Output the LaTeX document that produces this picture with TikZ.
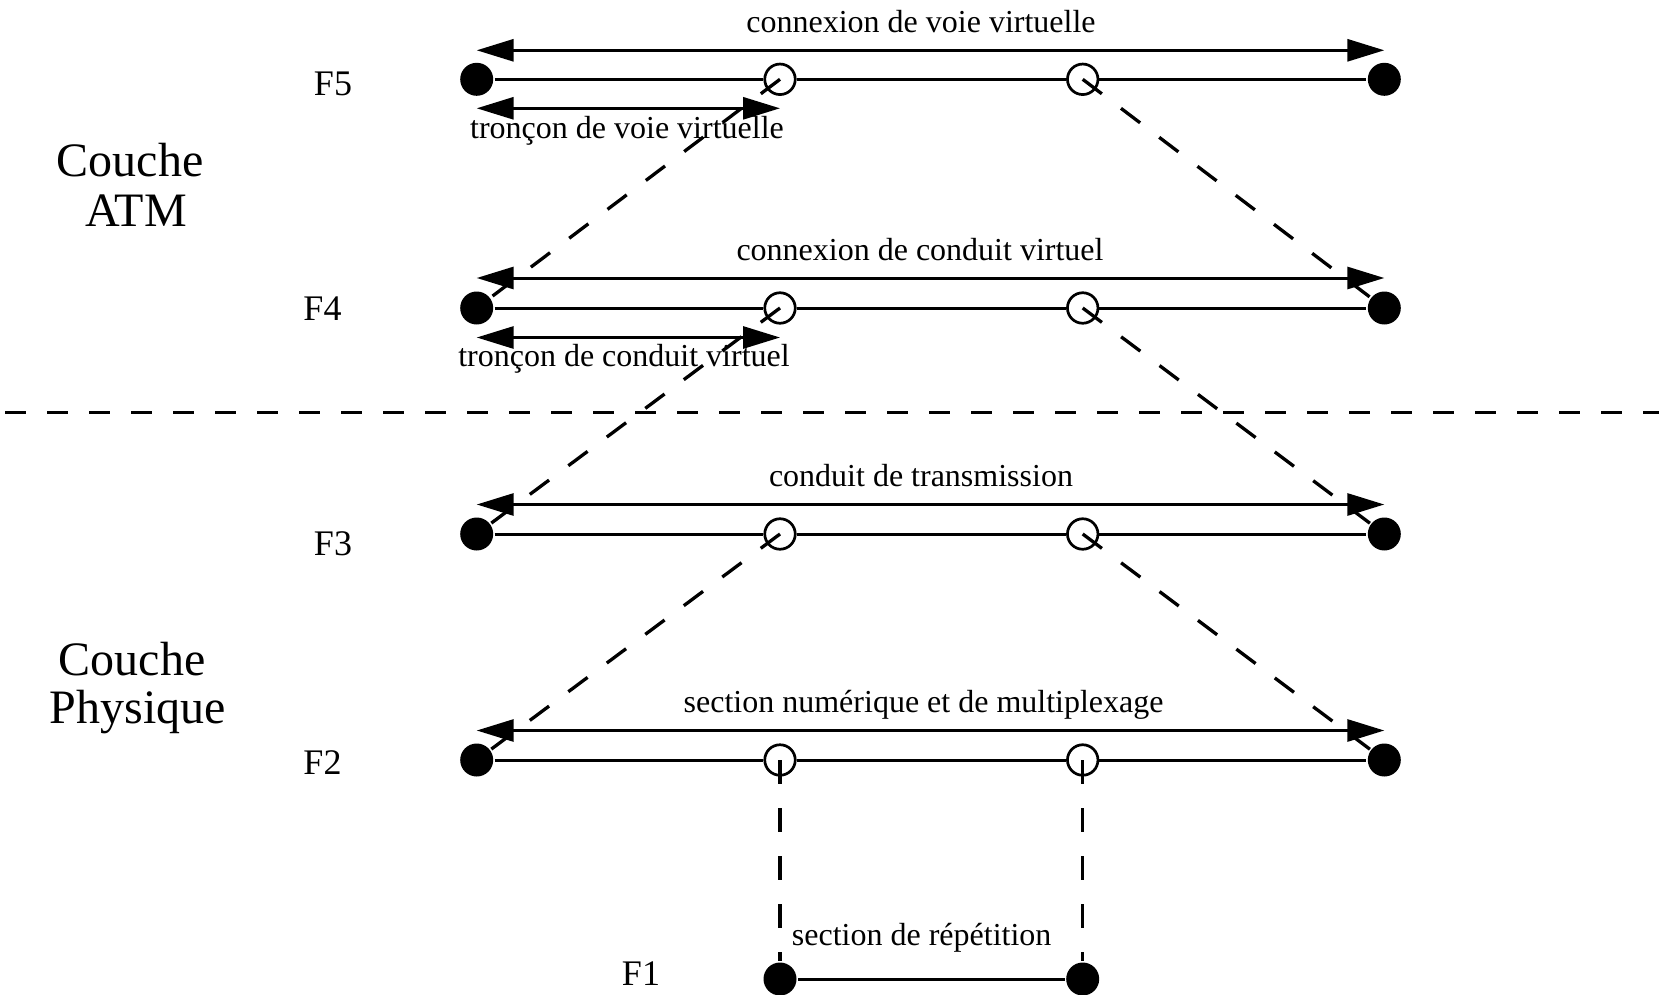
\documentclass[tikz,border=0pt]{standalone}
\usepackage{fontspec}
\setmainfont{Liberation Serif}
\usetikzlibrary{arrows.meta}
\begin{document}
\begin{tikzpicture}[x=1pt,y=-1pt,
  line width=3pt,
  fullpt/.style={circle,fill=black,inner sep=0pt,minimum size=33pt},
  openpt/.style={circle,draw,line width=2.7pt,inner sep=0pt,minimum size=30.5pt},
  dbl/.style={{Triangle[length=37pt,width=22pt]}-{Triangle[length=37pt,width=22pt]}},
  linkdash/.style={line width=3.3pt,dash pattern=on 24pt off 24pt},
  sepdash/.style={dash pattern=on 21pt off 21pt},
  lbl/.style={font=\fontsize{32}{38}\selectfont, anchor=base, inner sep=0pt},
  lvl/.style={font=\fontsize{36}{40}\selectfont, inner sep=0pt},
  layer/.style={font=\fontsize{48}{50}\selectfont, anchor=base, inner sep=0pt},
]
\useasboundingbox (0,0) rectangle (1659,995);

% end points and intermediate points of each level
\foreach \r/\yy in {5/79.3,4/308,3/534,2/760}{
  \node[fullpt] (L\r) at (476.7,\yy) {};
  \node[openpt] (A\r) at (780,\yy) {};
  \node[openpt] (B\r) at (1082.7,\yy) {};
  \node[fullpt] (R\r) at (1384.3,\yy) {};
  \draw (L\r) -- (A\r);
  \draw (A\r) -- (B\r);
  \draw (B\r) -- (R\r);
}
\node[fullpt] (A1) at (780,979) {};
\node[fullpt] (B1) at (1082.7,979) {};
\draw (A1) -- (B1);

% extents of the flows
\draw[dbl] ([yshift=29pt]L5.center) -- ([yshift=29pt]R5.center);
\draw[dbl] ([yshift=-29pt]L5.center) -- ([yshift=-29pt]A5.center);
\draw[dbl] ([yshift=30pt]L4.center) -- ([yshift=30pt]R4.center);
\draw[dbl] ([yshift=-29.5pt]L4.center) -- ([yshift=-29.5pt]A4.center);
\draw[dbl] ([yshift=29.5pt]L3.center) -- ([yshift=29.5pt]R3.center);
\draw[dbl] ([yshift=29.5pt]L2.center) -- ([yshift=29.5pt]R2.center);

% links between levels
\foreach \u/\d in {5/4,4/3,3/2}{
  \draw[linkdash] (A\u.center) -- (L\d);
  \draw[linkdash] (B\u.center) -- (R\d);
}
\draw[linkdash] (A2.center) -- (A1);
\draw[linkdash] (B2.center) -- (B1);

% boundary between the ATM and physical layers
\coordinate (sepW) at (5,412.7);
\coordinate (sepE) at (1659,412.7);
\draw[sepdash] (sepW) -- (sepE);

% flow names
\node[lbl] (t5) at (921,33) {connexion de voie virtuelle};
\node[lbl] (s5) at (627,138.3) {tronçon de voie virtuelle};
\node[lbl] (t4) at (920,260) {connexion de conduit virtuel};
\node[lbl] (s4) at (624,366.7) {tronçon de conduit virtuel};
\node[lbl] (t3) at (921,486) {conduit de transmission};
\node[lbl] (t2) at (923.6,712.3) {section numérique et de multiplexage};
\node[lbl] (t1) at (921.7,945) {section de répétition};

% level names
\node[lvl] (f5) at (333,84) {F5};
\node[lvl] (f4) at (322.5,309) {F4};
\node[lvl] (f3) at (333,544) {F3};
\node[lvl] (f2) at (322.5,763) {F2};
\node[lvl] (f1) at (641,974) {F1};

% layer names
\node[layer] (c1) at (130,176.7) {Couche};
\node[layer] (c2) at (136,226.4) {ATM};
\node[layer] (c3) at (132,675) {Couche};
\node[layer] (c4) at (138,723.7) {Physique};
\end{tikzpicture}
\end{document}
